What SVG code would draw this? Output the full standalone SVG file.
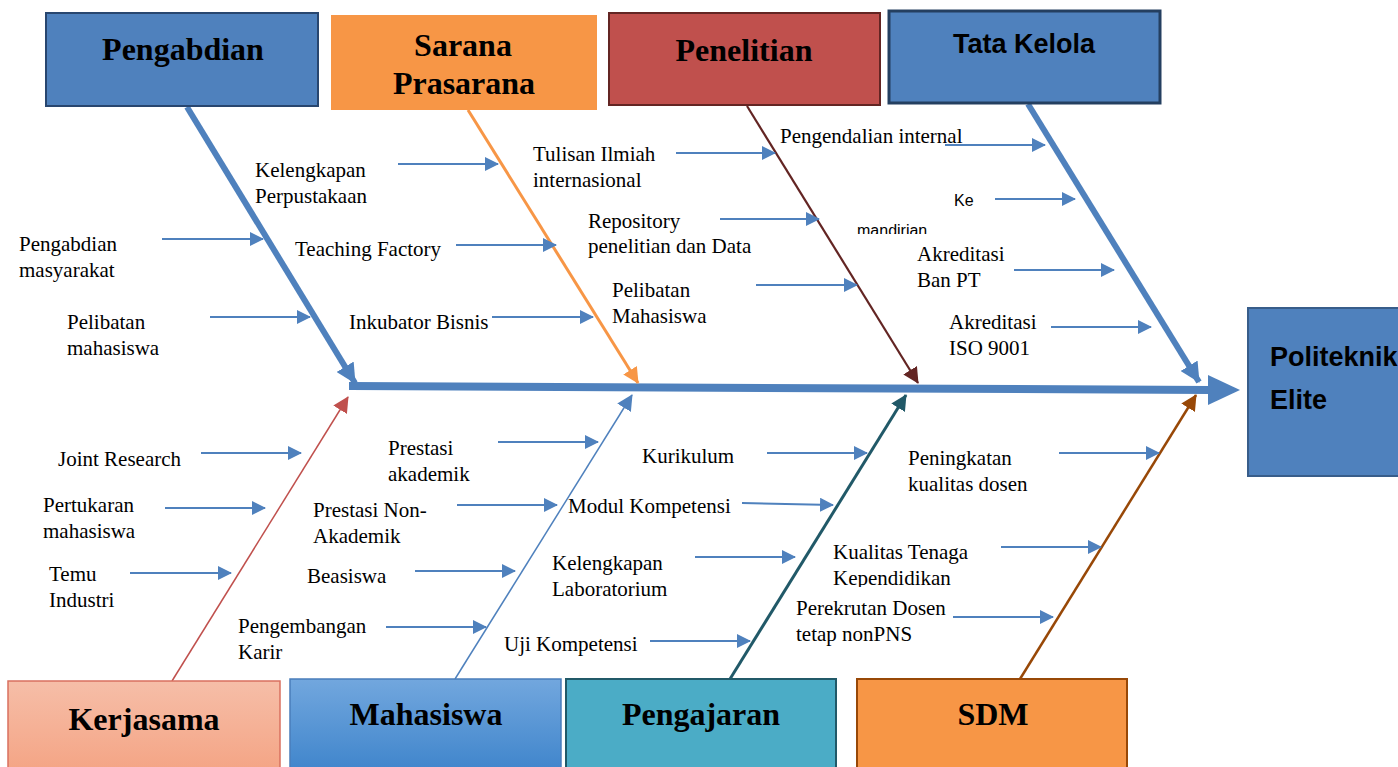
<svg xmlns="http://www.w3.org/2000/svg" width="1398" height="767" viewBox="0 0 1398 767">
<style>
.lbl{font-family:"Liberation Serif","Times New Roman",serif;font-size:21px;fill:#000}
.ttl{font-family:"Liberation Serif","Times New Roman",serif;font-size:32px;font-weight:bold;fill:#000;text-anchor:middle}
.sans{font-family:"Liberation Sans",Arial,sans-serif;font-weight:bold;fill:#000}
.sm{font-family:"Liberation Sans",Arial,sans-serif;font-size:16px;fill:#000}
.arr{stroke:#4f81bd;stroke-width:2;fill:none;marker-end:url(#mb)}
</style>
<defs>
<marker id="mb" markerUnits="userSpaceOnUse" markerWidth="14" markerHeight="14" viewBox="0 0 14 14" refX="13" refY="7" orient="auto"><path d="M0,0 L14,7 L0,14 z" fill="#4f81bd"/></marker>
<marker id="mbig" markerUnits="userSpaceOnUse" markerWidth="20" markerHeight="20" viewBox="0 0 20 20" refX="19" refY="10" orient="auto"><path d="M0,0 L20,10 L0,20 z" fill="#4f81bd"/></marker>
<marker id="mor" markerUnits="userSpaceOnUse" markerWidth="16" markerHeight="16" viewBox="0 0 16 16" refX="15" refY="8" orient="auto"><path d="M0,0 L16,8 L0,16 z" fill="#f79646"/></marker>
<marker id="mma" markerUnits="userSpaceOnUse" markerWidth="16" markerHeight="16" viewBox="0 0 16 16" refX="15" refY="8" orient="auto"><path d="M0,0 L16,8 L0,16 z" fill="#632523"/></marker>
<marker id="mre" markerUnits="userSpaceOnUse" markerWidth="16" markerHeight="16" viewBox="0 0 16 16" refX="15" refY="8" orient="auto"><path d="M0,0 L16,8 L0,16 z" fill="#c0504d"/></marker>
<marker id="mbl" markerUnits="userSpaceOnUse" markerWidth="16" markerHeight="16" viewBox="0 0 16 16" refX="15" refY="8" orient="auto"><path d="M0,0 L16,8 L0,16 z" fill="#4f81bd"/></marker>
<marker id="mte" markerUnits="userSpaceOnUse" markerWidth="16" markerHeight="16" viewBox="0 0 16 16" refX="15" refY="8" orient="auto"><path d="M0,0 L16,8 L0,16 z" fill="#215968"/></marker>
<marker id="mbr" markerUnits="userSpaceOnUse" markerWidth="16" markerHeight="16" viewBox="0 0 16 16" refX="15" refY="8" orient="auto"><path d="M0,0 L16,8 L0,16 z" fill="#984807"/></marker>
<linearGradient id="gk" x1="0" y1="0" x2="0" y2="1"><stop offset="0" stop-color="#f6bea8"/><stop offset="1" stop-color="#f4a383"/></linearGradient>
<linearGradient id="gm" x1="0" y1="0" x2="0" y2="1"><stop offset="0" stop-color="#72a7de"/><stop offset="1" stop-color="#3e84cb"/></linearGradient>
<clipPath id="c1"><rect x="840" y="180" width="140" height="54"/></clipPath>
<clipPath id="c2"><rect x="820" y="540" width="200" height="47"/></clipPath>
</defs>

<g id="connectors">
<line x1="349" y1="386" x2="1210" y2="390" stroke="#4f81bd" stroke-width="8"/>
<polygon points="1208,375 1240,390 1208,405" fill="#4f81bd"/>
<line x1="187" y1="107" x2="355" y2="383" stroke="#4f81bd" stroke-width="6" marker-end="url(#mbig)"/>
<line x1="468" y1="110" x2="638" y2="383" stroke="#f79646" stroke-width="3" marker-end="url(#mor)"/>
<line x1="747" y1="106" x2="918" y2="383" stroke="#632523" stroke-width="2.2" marker-end="url(#mma)"/>
<line x1="1028" y1="104" x2="1199" y2="382" stroke="#4f81bd" stroke-width="6" marker-end="url(#mbig)"/>
<line x1="172" y1="681" x2="348" y2="397" stroke="#c0504d" stroke-width="1.5" marker-end="url(#mre)"/>
<line x1="455" y1="679" x2="632" y2="395" stroke="#4f81bd" stroke-width="1.5" marker-end="url(#mbl)"/>
<line x1="730" y1="679" x2="906" y2="395" stroke="#215968" stroke-width="3" marker-end="url(#mte)"/>
<line x1="1020" y1="679" x2="1196" y2="395" stroke="#984807" stroke-width="2.5" marker-end="url(#mbr)"/>

<line class="arr" x1="398" y1="164" x2="498" y2="164"/>
<line class="arr" x1="162" y1="239" x2="263" y2="239"/>
<line class="arr" x1="456" y1="245" x2="556" y2="245"/>
<line class="arr" x1="210" y1="317" x2="310" y2="317"/>
<line class="arr" x1="492" y1="317" x2="593" y2="317"/>
<line class="arr" x1="676" y1="153" x2="775" y2="153"/>
<line class="arr" x1="720" y1="219" x2="819" y2="219"/>
<line class="arr" x1="756" y1="285" x2="857" y2="285"/>
<line class="arr" x1="945" y1="145" x2="1045" y2="145"/>
<line class="arr" x1="995" y1="199" x2="1075" y2="199"/>
<line class="arr" x1="1014" y1="270" x2="1114" y2="270"/>
<line class="arr" x1="1051" y1="327" x2="1151" y2="327"/>
<line class="arr" x1="201" y1="453" x2="301" y2="453"/>
<line class="arr" x1="165" y1="508" x2="265" y2="508"/>
<line class="arr" x1="130" y1="573" x2="231" y2="573"/>
<line class="arr" x1="498" y1="442" x2="598" y2="442"/>
<line class="arr" x1="457" y1="505" x2="557" y2="505"/>
<line class="arr" x1="415" y1="571" x2="515" y2="571"/>
<line class="arr" x1="386" y1="627" x2="486" y2="627"/>
<line class="arr" x1="767" y1="453" x2="867" y2="453"/>
<line class="arr" x1="742" y1="503" x2="833" y2="505"/>
<line class="arr" x1="695" y1="557" x2="795" y2="557"/>
<line class="arr" x1="650" y1="641" x2="750" y2="641"/>
<line class="arr" x1="1059" y1="453" x2="1159" y2="453"/>
<line class="arr" x1="1001" y1="547" x2="1101" y2="547"/>
<line class="arr" x1="953" y1="617" x2="1053" y2="617"/>
</g>

<g id="labels">
<text class="lbl" x="255" y="177">Kelengkapan</text>
<text class="lbl" x="255" y="203">Perpustakaan</text>
<text class="lbl" x="19" y="251">Pengabdian</text>
<text class="lbl" x="19" y="277">masyarakat</text>
<text class="lbl" x="295" y="256">Teaching Factory</text>
<text class="lbl" x="67" y="329">Pelibatan</text>
<text class="lbl" x="67" y="355">mahasiswa</text>
<text class="lbl" x="349" y="329">Inkubator Bisnis</text>
<text class="lbl" x="533" y="161">Tulisan Ilmiah</text>
<text class="lbl" x="533" y="187">internasional</text>
<text class="lbl" x="588" y="228">Repository</text>
<text class="lbl" x="588" y="253">penelitian dan Data</text>
<text class="lbl" x="612" y="297">Pelibatan</text>
<text class="lbl" x="612" y="323">Mahasiswa</text>
<text class="lbl" x="780" y="143">Pengendalian internal</text>
<text class="sm" x="954" y="206">Ke</text>
<text class="sm" x="857" y="236" font-size="18" clip-path="url(#c1)">mandirian</text>
<text class="lbl" x="917" y="261">Akreditasi</text>
<text class="lbl" x="917" y="287">Ban PT</text>
<text class="lbl" x="949" y="329">Akreditasi</text>
<text class="lbl" x="949" y="355">ISO 9001</text>
<text class="lbl" x="58" y="466">Joint Research</text>
<text class="lbl" x="43" y="512">Pertukaran</text>
<text class="lbl" x="43" y="538">mahasiswa</text>
<text class="lbl" x="49" y="581">Temu</text>
<text class="lbl" x="49" y="607">Industri</text>
<text class="lbl" x="388" y="455">Prestasi</text>
<text class="lbl" x="388" y="481">akademik</text>
<text class="lbl" x="313" y="517">Prestasi Non-</text>
<text class="lbl" x="313" y="543">Akademik</text>
<text class="lbl" x="307" y="583">Beasiswa</text>
<text class="lbl" x="238" y="633">Pengembangan</text>
<text class="lbl" x="238" y="659">Karir</text>
<text class="lbl" x="642" y="463">Kurikulum</text>
<text class="lbl" x="568" y="513">Modul Kompetensi</text>
<text class="lbl" x="552" y="570">Kelengkapan</text>
<text class="lbl" x="552" y="596">Laboratorium</text>
<text class="lbl" x="504" y="651">Uji Kompetensi</text>
<text class="lbl" x="908" y="465">Peningkatan</text>
<text class="lbl" x="908" y="491">kualitas dosen</text>
<text class="lbl" x="833" y="559">Kualitas Tenaga</text>
<text class="lbl" x="833" y="585" clip-path="url(#c2)">Kependidikan</text>
<text class="lbl" x="796" y="615">Perekrutan Dosen</text>
<text class="lbl" x="796" y="641">tetap nonPNS</text>
</g>

<g id="pengabdian"><rect x="46" y="13" width="272" height="93" fill="#4f81bd" stroke="#28466f" stroke-width="2"/><text class="ttl" x="183" y="60">Pengabdian</text></g>
<g id="sarana"><rect x="331" y="15" width="266" height="95" fill="#f79646"/><text class="ttl" x="463" y="56">Sarana</text><text class="ttl" x="464" y="94">Prasarana</text></g>
<g id="penelitian"><rect x="609" y="13" width="271" height="92" fill="#c0504d" stroke="#632523" stroke-width="2"/><text class="ttl" x="744" y="61">Penelitian</text></g>
<g id="tatakelola"><rect x="889" y="11" width="271" height="92" fill="#4f81bd" stroke="#243f60" stroke-width="3"/><text class="sans" x="1024" y="53" font-size="27" text-anchor="middle">Tata Kelola</text></g>
<g id="politeknik"><rect x="1248" y="308" width="160" height="168" fill="#4f81bd" stroke="#385d8a" stroke-width="2"/><text class="sans" x="1270" y="366" font-size="27">Politeknik</text><text class="sans" x="1270" y="409" font-size="27">Elite</text></g>
<g id="kerjasama"><rect x="8" y="681" width="272" height="95" fill="url(#gk)" stroke="#d9705f" stroke-width="1.5"/><text class="ttl" x="144" y="730">Kerjasama</text></g>
<g id="mahasiswa"><rect x="290" y="679" width="271" height="95" fill="url(#gm)" stroke="#4a7ebb" stroke-width="1.5"/><text class="ttl" x="426" y="725">Mahasiswa</text></g>
<g id="pengajaran"><rect x="566" y="679" width="270" height="95" fill="#4bacc6" stroke="#215968" stroke-width="2"/><text class="ttl" x="701" y="725">Pengajaran</text></g>
<g id="sdm"><rect x="857" y="679" width="270" height="95" fill="#f79646" stroke="#984807" stroke-width="2"/><text class="ttl" x="993" y="725">SDM</text></g>
</svg>
